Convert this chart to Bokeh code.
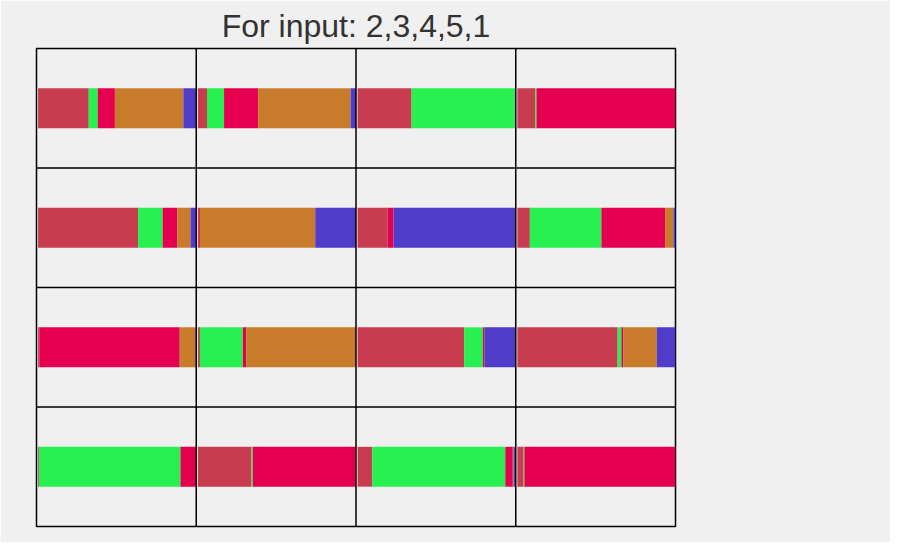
from bokeh.plotting import figure
from bokeh.models import Legend, LegendItem, Span, ColumnDataSource
from bokeh.embed import file_html
from bokeh.resources import INLINE

crops = ["Wheat", "Barley", "Paddy", "Mustard", "Corn"]
colors = ["#c83c50", "#28f050", "#e4004e", "#c87b2b", "#503cc8"]
# rows top to bottom, cells left to right; values per crop
wheat   = [[122, 22, 130, 43], [241, 3, 72, 30], [3, 5, 256, 241], [2, 129, 35, 15]]
barley  = [[22, 41, 250, 3], [59, 0, 0, 172], [0, 103, 45, 9], [341, 3, 318, 2]]
paddy   = [[41, 82, 0, 334], [35, 2, 14, 153], [340, 8, 4, 5], [38, 248, 18, 363]]
mustard = [[165, 222, 0, 0], [32, 277, 0, 20], [38, 264, 0, 80], [0, 0, 2, 0]]
corn    = [[31, 13, 1, 0], [14, 98, 294, 5], [2, 0, 75, 45], [0, 0, 5, 0]]
series = [wheat, barley, paddy, mustard, corn]

p = figure(frame_width=639, frame_height=478, x_range=(0, 4), y_range=(0, 4),
           output_backend="svg", toolbar_location=None,
           min_border_left=36, min_border_top=12, min_border_bottom=16, min_border_right=215,
           background_fill_color="#f0f0f0", border_fill_color="#f0f0f0",
           title="For input: 2,3,4,5,1")
p.title.align = "center"
p.title.text_font = "Liberation Sans"
p.title.text_font_size = "24pt"
p.title.text_font_style = "normal"
p.title.text_color = "#333333"
p.axis.visible = False
p.grid.visible = False
p.outline_line_color = "black"
p.outline_line_width = 1.5

renderers = []
for k, (name, col) in enumerate(zip(crops, colors)):
    lefts, rights, ys = [], [], []
    for r in range(4):
        for c in range(4):
            tot = sum(s[r][c] for s in series)
            before = sum(series[j][r][c] for j in range(k))
            lefts.append(c + 0.01 + 0.99 * before / tot)
            rights.append(c + 0.01 + 0.99 * (before + series[k][r][c]) / tot)
            ys.append(3.5 - r)
    src = ColumnDataSource(dict(left=lefts, right=rights, y=ys))
    rr = p.hbar(y="y", left="left", right="right", height=1/3, source=src,
                fill_color=col, line_color=None)
    renderers.append(rr)

for i in range(1, 4):
    p.add_layout(Span(location=i, dimension="height", line_color="black", line_width=1.5))
    p.add_layout(Span(location=i, dimension="width", line_color="black", line_width=1.5))

legend = Legend(items=[LegendItem(label=n, renderers=[r]) for n, r in zip(crops, renderers)],
                glyph_width=24, glyph_height=37, spacing=0, padding=0,
                label_text_font_size="8pt", label_text_font="Liberation Sans",
                background_fill_alpha=0, border_line_color=None,
                margin=0, location=(770, 96), label_standoff=10)
p.add_layout(legend)

open("out.html", "w").write(file_html(p, INLINE))
